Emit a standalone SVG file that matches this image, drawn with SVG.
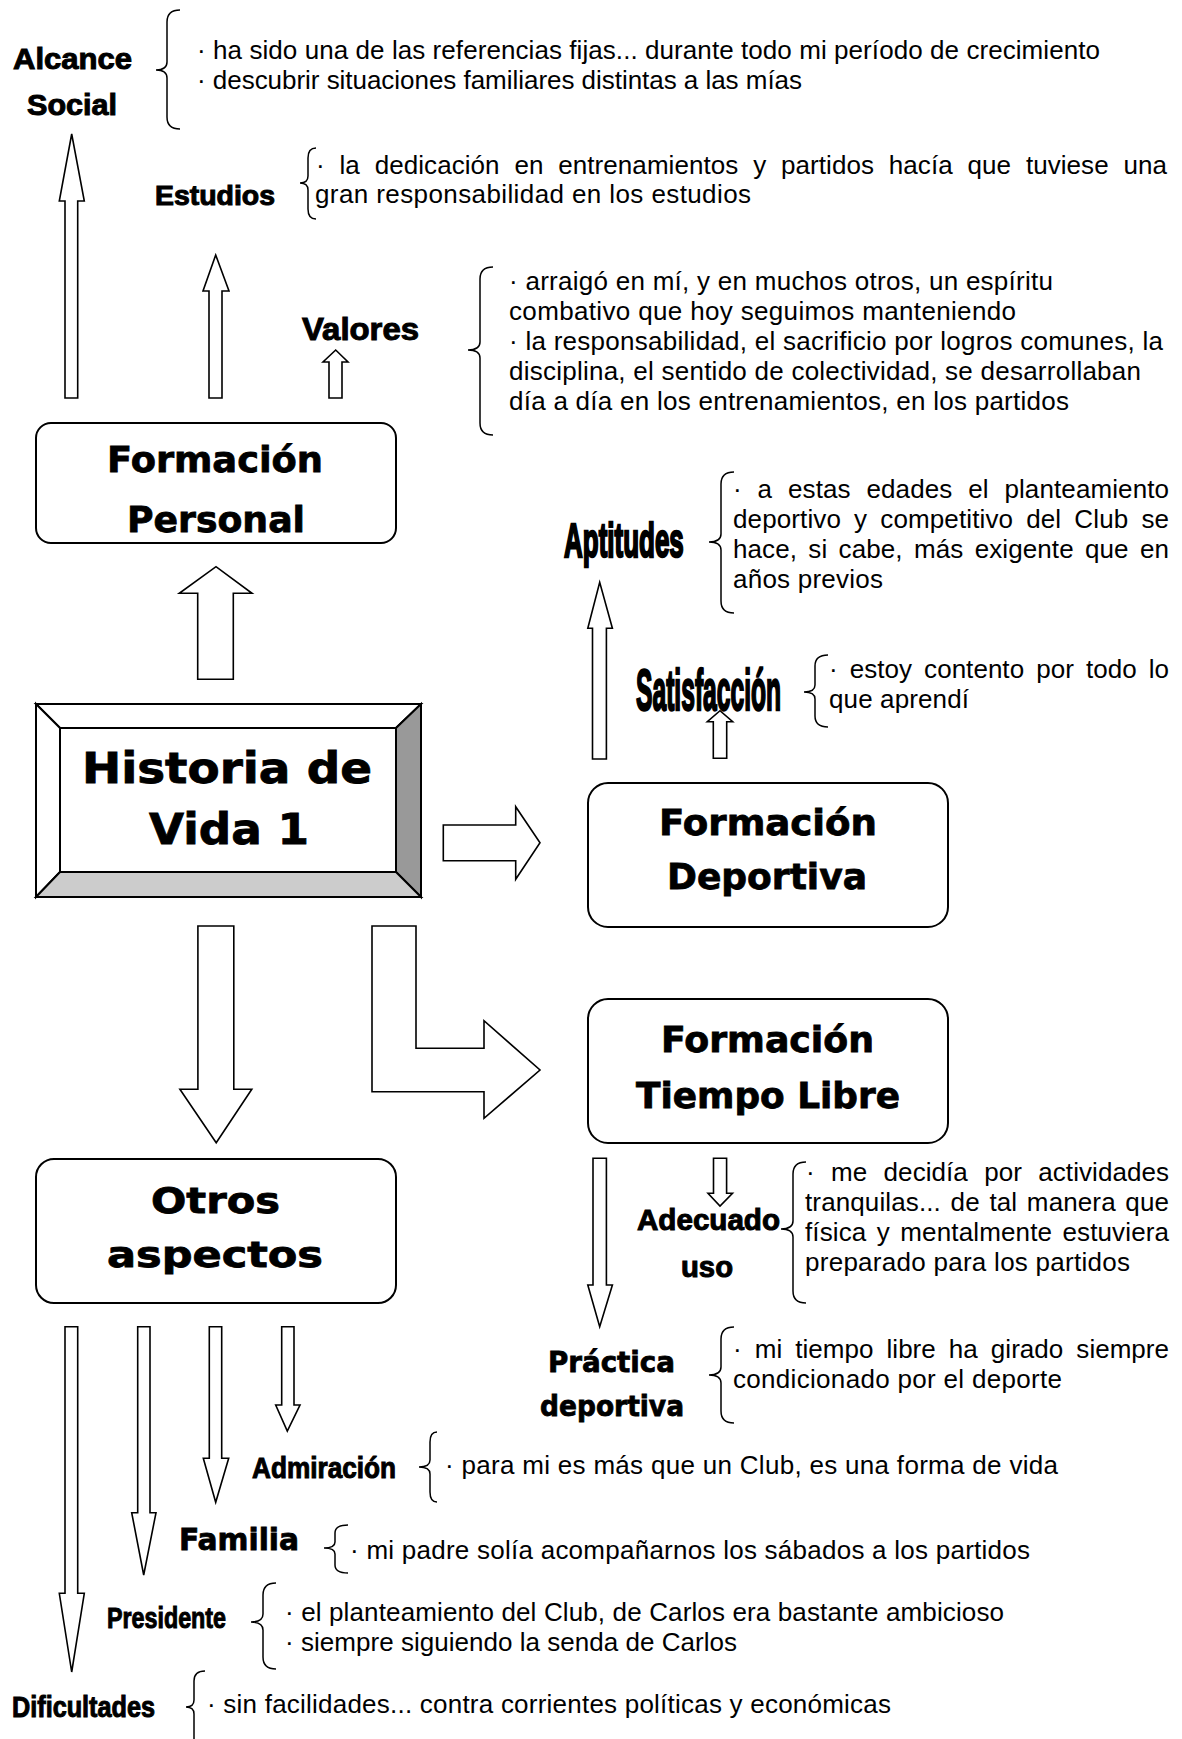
<svg xmlns="http://www.w3.org/2000/svg" width="1182" height="1739" viewBox="0 0 1182 1739">
<style>
.bg{fill:#fff}
.box{fill:#fff;stroke:#000;stroke-width:2}
.bev{stroke:#000;stroke-width:2;stroke-linejoin:miter}
.arr{fill:#fff;stroke:#000;stroke-width:1.6;stroke-linejoin:miter}
.brace{fill:none;stroke:#000;stroke-width:1.5}
.t{font-family:"Liberation Sans",Arial,sans-serif;font-size:26px;fill:#000}
.hn{font-family:"Liberation Sans",Arial,sans-serif;font-weight:bold;fill:#000;stroke:#000;stroke-width:1}
.hc{font-family:"Liberation Sans",Arial,sans-serif;font-weight:bold;fill:#000;stroke:#000;stroke-width:2.4}
.hb{font-family:"DejaVu Sans","Liberation Sans",sans-serif;font-weight:bold;fill:#000;stroke:#000;stroke-width:0.8}
</style>
<rect class="bg" x="0" y="0" width="1182" height="1739"/>

<g id="connectors">
  <polygon class="arr" points="65,398 65,201 59.3,201 71.7,134 84.3,201 77.7,201 77.7,398"/>
  <polygon class="arr" points="209,398 209,291 203,291 215.7,255 229,291 222,291 222,398"/>
  <polygon class="arr" points="329,398 329,362 323,362 335.7,350 348,362 342,362 342,398"/>
  <polygon class="arr" points="197.7,679.3 197.7,593.3 179.3,593.3 216,566.7 252,593.3 233.3,593.3 233.3,679.3"/>
  <polygon class="arr" points="592.5,759 592.5,628.3 587.8,628.3 599.7,582.3 612.4,628.3 606.4,628.3 606.4,759"/>
  <polygon class="arr" points="713.3,758.3 713.3,721.7 707.3,721.7 720,710.7 732.7,721.7 726.7,721.7 726.7,758.3"/>
  <polygon class="arr" points="443.3,825 515.7,825 515.7,806.7 540,842.7 515.7,879.3 515.7,860.7 443.3,860.7"/>
  <polygon class="arr" points="372,926 416,926 416,1048.3 484,1048.3 484,1020.7 540,1070 484,1118.3 484,1091.7 372,1091.7"/>
  <polygon class="arr" points="197.9,926 233.8,926 233.8,1089.3 251.8,1089.3 216.2,1142.7 179.9,1089.3 197.9,1089.3"/>
  <polygon class="arr" points="593,1158.3 606.4,1158.3 606.4,1285 612.4,1285 599.7,1326.7 587.8,1285 593,1285"/>
  <polygon class="arr" points="713.5,1158.3 726.6,1158.3 726.6,1193.3 732.5,1193.3 720,1206 708,1193.3 713.5,1193.3"/>
  <polygon class="arr" points="65,1326.7 77.7,1326.7 77.7,1593.3 84.3,1593.3 71.7,1672 59.3,1593.3 65,1593.3"/>
  <polygon class="arr" points="137.7,1326.7 150,1326.7 150,1512.7 156,1512.7 143.7,1575 131.7,1512.7 137.7,1512.7"/>
  <polygon class="arr" points="209.3,1326.7 221.7,1326.7 221.7,1458.3 228.7,1458.3 215.7,1502.3 203.3,1458.3 209.3,1458.3"/>
  <polygon class="arr" points="281.7,1326.7 294,1326.7 294,1405 300,1405 287.3,1431 275.7,1405 281.7,1405"/>
</g>

<g id="historia">
  <rect x="36" y="704" width="385" height="193" fill="#fff" stroke="none"/>
  <polygon class="bev" fill="#fff" points="36,704 421,704 396,728 60,728"/>
  <polygon class="bev" fill="#fff" points="36,704 60,728 60,872 36,897"/>
  <polygon class="bev" fill="#999999" points="421,704 421,897 396,872 396,728"/>
  <polygon class="bev" fill="#cccccc" points="36,897 60,872 396,872 421,897"/>
  <rect x="60" y="728" width="336" height="144" fill="#fff" stroke="#000" stroke-width="2"/>
  <text class="hb" x="82" y="783" font-size="42" textLength="290" lengthAdjust="spacingAndGlyphs">Historia de</text>
  <text class="hb" x="149" y="844" font-size="42" textLength="160" lengthAdjust="spacingAndGlyphs">Vida 1</text>
</g>

<g id="formacion-personal">
  <rect class="box" x="36" y="423" width="360" height="120" rx="15"/>
  <text class="hb" x="107" y="472" font-size="36" textLength="216" lengthAdjust="spacingAndGlyphs">Formación</text>
  <text class="hb" x="127" y="532" font-size="36" textLength="178" lengthAdjust="spacingAndGlyphs">Personal</text>
</g>

<g id="formacion-deportiva">
  <rect class="box" x="588" y="783" width="360" height="144" rx="20"/>
  <text class="hb" x="659" y="835" font-size="36" textLength="218" lengthAdjust="spacingAndGlyphs">Formación</text>
  <text class="hb" x="667" y="889" font-size="36" textLength="200" lengthAdjust="spacingAndGlyphs">Deportiva</text>
</g>

<g id="formacion-tiempo-libre">
  <rect class="box" x="588" y="999" width="360" height="144" rx="20"/>
  <text class="hb" x="661" y="1052" font-size="35" textLength="213" lengthAdjust="spacingAndGlyphs">Formación</text>
  <text class="hb" x="636" y="1108" font-size="35" textLength="264" lengthAdjust="spacingAndGlyphs">Tiempo Libre</text>
</g>

<g id="otros-aspectos">
  <rect class="box" x="36" y="1159" width="360" height="144" rx="18"/>
  <text class="hb" x="151" y="1213" font-size="36" textLength="129" lengthAdjust="spacingAndGlyphs">Otros</text>
  <text class="hb" x="107" y="1267" font-size="36" textLength="216" lengthAdjust="spacingAndGlyphs">aspectos</text>
</g>

<g id="alcance-social">
  <text class="hn" x="13" y="69" font-size="30" textLength="119" lengthAdjust="spacingAndGlyphs">Alcance</text>
  <text class="hn" x="27" y="115" font-size="30" textLength="90" lengthAdjust="spacingAndGlyphs">Social</text>
  <path class="brace" d="M180,10 Q167,10 167,22 L167,62 Q167,70 156,70 Q167,70 167,78 L167,117 Q167,129 180,129"/>
  <text class="t" x="197" y="59" textLength="903" lengthAdjust="spacing">· ha sido una de las referencias fijas... durante todo mi período de crecimiento</text>
  <text class="t" x="197" y="89" textLength="605" lengthAdjust="spacing">· descubrir situaciones familiares distintas a las mías</text>
</g>

<g id="estudios">
  <text class="hn" x="155" y="205" font-size="27" textLength="120" lengthAdjust="spacingAndGlyphs">Estudios</text>
  <path class="brace" d="M316,148 Q308,148 308,158 L308,176 Q308,183 300,183 Q308,183 308,190 L308,209 Q308,219 316,219"/>
  <text class="t" x="316" y="174" word-spacing="7.5" textLength="851" lengthAdjust="spacing">· la dedicación en entrenamientos y partidos hacía que tuviese una</text>
  <text class="t" x="315" y="203" textLength="436" lengthAdjust="spacing">gran responsabilidad en los estudios</text>
</g>

<g id="valores">
  <text class="hn" x="302" y="340" font-size="31" textLength="117" lengthAdjust="spacingAndGlyphs">Valores</text>
  <path class="brace" d="M493,267 Q480,267 480,279 L480,342 Q480,350 468,350 Q480,350 480,358 L480,423 Q480,435 493,435"/>
  <text class="t" x="509" y="290" textLength="544" lengthAdjust="spacing">· arraigó en mí, y en muchos otros, un espíritu</text>
  <text class="t" x="509" y="320" textLength="507" lengthAdjust="spacing">combativo que hoy seguimos manteniendo</text>
  <text class="t" x="509" y="350" textLength="654" lengthAdjust="spacing">· la responsabilidad, el sacrificio por logros comunes, la</text>
  <text class="t" x="509" y="380" textLength="632" lengthAdjust="spacing">disciplina, el sentido de colectividad, se desarrollaban</text>
  <text class="t" x="509" y="410" textLength="560" lengthAdjust="spacing">día a día en los entrenamientos, en los partidos</text>
</g>

<g id="aptitudes">
  <text class="hc" transform="translate(564,557) scale(0.542,1)" x="0" y="0" font-size="48" textLength="221" lengthAdjust="spacingAndGlyphs">Aptitudes</text>
  <path class="brace" d="M734,472 Q721,472 721,484 L721,534 Q721,542 709,542 Q721,542 721,550 L721,601 Q721,613 734,613"/>
  <text class="t" x="733" y="498" word-spacing="8.5" textLength="436" lengthAdjust="spacing">· a estas edades el planteamiento</text>
  <text class="t" x="733" y="528" word-spacing="5.8" textLength="436" lengthAdjust="spacing">deportivo y competitivo del Club se</text>
  <text class="t" x="733" y="558" word-spacing="4" textLength="436" lengthAdjust="spacing">hace, si cabe, más exigente que en</text>
  <text class="t" x="733" y="588" textLength="150" lengthAdjust="spacing">años previos</text>
</g>

<g id="satisfaccion">
  <text class="hc" transform="translate(636,710) scale(0.432,1)" x="0" y="0" font-size="57" textLength="336" lengthAdjust="spacingAndGlyphs">Satisfacción</text>
  <path class="brace" d="M828,655 Q815,655 815,666 L815,685 Q815,692 804,692 Q815,692 815,699 L815,716 Q815,727 828,727"/>
  <text class="t" x="829" y="678" word-spacing="4.8" textLength="340" lengthAdjust="spacing">· estoy contento por todo lo</text>
  <text class="t" x="829" y="708" textLength="140" lengthAdjust="spacing">que aprendí</text>
</g>

<g id="adecuado-uso">
  <text class="hn" x="637" y="1230" font-size="29" textLength="143" lengthAdjust="spacingAndGlyphs">Adecuado</text>
  <text class="hn" x="681" y="1277" font-size="29" textLength="52" lengthAdjust="spacingAndGlyphs">uso</text>
  <path class="brace" d="M806,1162 Q793,1162 793,1174 L793,1221 Q793,1229 781,1229 Q793,1229 793,1237 L793,1291 Q793,1303 806,1303"/>
  <text class="t" x="806" y="1181" word-spacing="9" textLength="363" lengthAdjust="spacing">· me decidía por actividades</text>
  <text class="t" x="805" y="1211" word-spacing="2.3" textLength="364" lengthAdjust="spacing">tranquilas... de tal manera que</text>
  <text class="t" x="805" y="1241" word-spacing="3" textLength="364" lengthAdjust="spacing">física y mentalmente estuviera</text>
  <text class="t" x="805" y="1271" textLength="325" lengthAdjust="spacing">preparado para los partidos</text>
</g>

<g id="practica-deportiva">
  <text class="hb" x="548" y="1372" font-size="29" textLength="127" lengthAdjust="spacingAndGlyphs">Práctica</text>
  <text class="hb" x="540" y="1416" font-size="29" textLength="144" lengthAdjust="spacingAndGlyphs">deportiva</text>
  <path class="brace" d="M734,1327 Q721,1327 721,1339 L721,1367 Q721,1375 709,1375 Q721,1375 721,1383 L721,1411 Q721,1423 734,1423"/>
  <text class="t" x="733" y="1358" word-spacing="5.8" textLength="436" lengthAdjust="spacing">· mi tiempo libre ha girado siempre</text>
  <text class="t" x="733" y="1388" textLength="329" lengthAdjust="spacing">condicionado por el deporte</text>
</g>

<g id="admiracion">
  <text class="hn" x="252" y="1478" font-size="29" textLength="144" lengthAdjust="spacingAndGlyphs">Admiración</text>
  <path class="brace" d="M437,1432 Q430,1432 430,1442 L430,1460 Q430,1467 419,1467 Q430,1467 430,1474 L430,1492 Q430,1502 437,1502"/>
  <text class="t" x="445" y="1474" textLength="613" lengthAdjust="spacing">· para mi es más que un Club, es una forma de vida</text>
</g>

<g id="familia">
  <text class="hb" x="179" y="1550" font-size="30" textLength="120" lengthAdjust="spacingAndGlyphs">Familia</text>
  <path class="brace" d="M348,1525 Q335,1525 335,1533 L335,1542 Q335,1548 324,1548 Q335,1548 335,1554 L335,1565 Q335,1573 348,1573"/>
  <text class="t" x="350" y="1559" textLength="680" lengthAdjust="spacing">· mi padre solía acompañarnos los sábados a los partidos</text>
</g>

<g id="presidente">
  <text class="hn" x="107" y="1628" font-size="29" textLength="119" lengthAdjust="spacingAndGlyphs">Presidente</text>
  <path class="brace" d="M276,1583 Q263,1583 263,1595 L263,1614 Q263,1622 251,1622 Q263,1622 263,1630 L263,1657 Q263,1669 276,1669"/>
  <text class="t" x="285" y="1621" textLength="719" lengthAdjust="spacing">· el planteamiento del Club, de Carlos era bastante ambicioso</text>
  <text class="t" x="285" y="1651" textLength="452" lengthAdjust="spacing">· siempre siguiendo la senda de Carlos</text>
</g>

<g id="dificultades">
  <text class="hn" x="12" y="1717" font-size="29" textLength="143" lengthAdjust="spacingAndGlyphs">Dificultades</text>
  <path class="brace" d="M205,1671 Q194,1671 194,1681 L194,1700 Q194,1707 186,1707 Q194,1707 194,1714 L194,1745"/>
  <text class="t" x="207" y="1713" textLength="684" lengthAdjust="spacing">· sin facilidades... contra corrientes políticas y económicas</text>
</g>
</svg>
